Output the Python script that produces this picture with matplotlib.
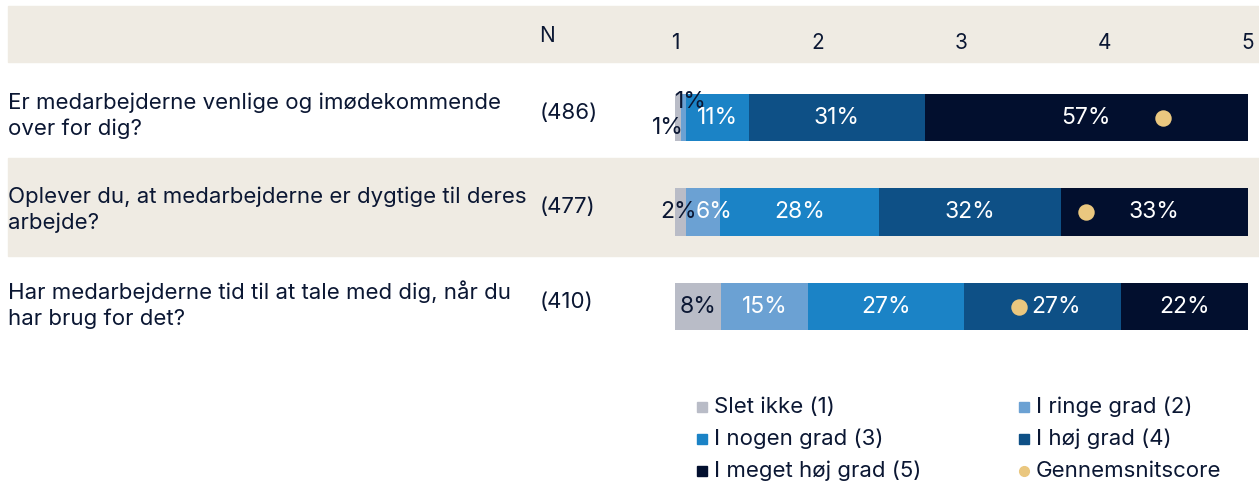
import matplotlib
matplotlib.use("Agg")
from matplotlib import pyplot as plt
from matplotlib.patches import Rectangle
import matplotlib.transforms as mtransforms

plt.rcParams['font.family'] = ['Inter', 'DejaVu Sans']

# data
questions = [
    "Er medarbejderne venlige og imødekommende\nover for dig?",
    "Oplever du, at medarbejderne er dygtige til deres\narbejde?",
    "Har medarbejderne tid til at tale med dig, når du\nhar brug for det?",
]
n_labels = ["(486)", "(477)", "(410)"]
categories = ["Slet ikke (1)", "I ringe grad (2)", "I nogen grad (3)",
              "I høj grad (4)", "I meget høj grad (5)"]
pct = [
    [1, 1, 11, 31, 57],
    [2, 6, 28, 32, 33],
    [8, 15, 27, 27, 22],
]
means = [4.41, 3.87, 3.40]
scale_ticks = [1, 2, 3, 4, 5]

colors = ["#b9bcc7", "#6ba1d3", "#1b83c6", "#0e5086", "#020f2e"]
dot_color = "#eac77f"
text_color = "#0b1733"
band_color = "#efebe3"

W, H = 1259, 484
fig = plt.figure(figsize=(W / 100, H / 100), dpi=100)
# x: scale 1..5 from px 675 to 1248; y: row index, 94.5 px per row, row 0 centred at px 117.5
ax = fig.add_axes([675 / W, 0, 573 / W, 1])
ax.set_xlim(1, 5)
ax.set_ylim((H - 117.5) / 94.5, -117.5 / 94.5)
ax.axis("off")

# background bands spanning the whole figure width
blend = mtransforms.blended_transform_factory(fig.transFigure, ax.transData)
ax.add_patch(Rectangle((8 / W, -1.18), 1, 0.59, transform=blend,
                       color=band_color, zorder=0, clip_on=False))
ax.add_patch(Rectangle((8 / W, 0.43), 1, 1.04, transform=blend,
                       color=band_color, zorder=0, clip_on=False))

fs = 16
pfs = 16.5
for t in scale_ticks:
    ax.text(t, -0.79, str(t), ha="center", va="center", fontsize=fs - 1,
            color=text_color)
ax.text(547 / W, -0.86, "N", transform=blend, ha="center", va="center",
        fontsize=fs - 1, color=text_color)

for i, row in enumerate(pct):
    total = sum(row)
    left = 1.0
    for j, v in enumerate(row):
        w = 4.0 * v / total
        ax.barh(i, w, left=left, height=0.5, color=colors[j], zorder=2)
        cx = left + w / 2
        label = f"{v}%"
        if v <= 1:
            # tiny segments: label pushed outside the bar
            dx, dy = (-10, 10) if j == 0 else (7, -16)
            ax.annotate(label, (cx, i), xytext=(dx * 0.72, -dy * 0.72),
                        textcoords="offset points", ha="center", va="center",
                        fontsize=pfs, color=text_color, zorder=4)
        else:
            c = text_color if j == 0 else "white"
            dx = 0
            if j == 0 and v < 3:
                dx = -1.5
            # narrow segments next to another label get nudged right
            if j > 0 and v < 8:
                dx = 8
            # keep the label clear of the mean dot
            if abs(means[i] - cx) < 0.2:
                dx = 10
            ax.annotate(label, (cx, i), xytext=(dx, 0),
                        textcoords="offset points", ha="center", va="center",
                        fontsize=pfs, color=c, zorder=4)
        left += w
    ax.scatter(means[i], i, s=140, color=dot_color, zorder=5, linewidths=0)
    ax.text(8 / W, i - 0.02, questions[i], transform=blend, ha="left",
            va="center", fontsize=fs, color=text_color, linespacing=1.32)
    ax.text(540 / W, i - 0.05, n_labels[i], transform=blend, ha="left",
            va="center", fontsize=fs, color=text_color)

# legend laid out in two columns, row-wise
leg_x = [702, 1024]
leg_y = [407, 439, 471]
items = list(zip(categories, colors)) + [("Gennemsnitscore", dot_color)]
for k, (name, c) in enumerate(items):
    px = leg_x[k % 2]
    py = leg_y[k // 2]
    marker = "o" if name == "Gennemsnitscore" else "s"
    fig.lines.append(plt.Line2D([px / W], [1 - py / H], marker=marker,
                                markersize=7.5 if marker == "s" else 7,
                                color=c, linestyle="none",
                                transform=fig.transFigure))
    fig.text((px + 12) / W, 1 - py / H, name, ha="left", va="center",
             fontsize=fs, color=text_color)

fig.savefig("out.png", dpi=100, facecolor="white")
